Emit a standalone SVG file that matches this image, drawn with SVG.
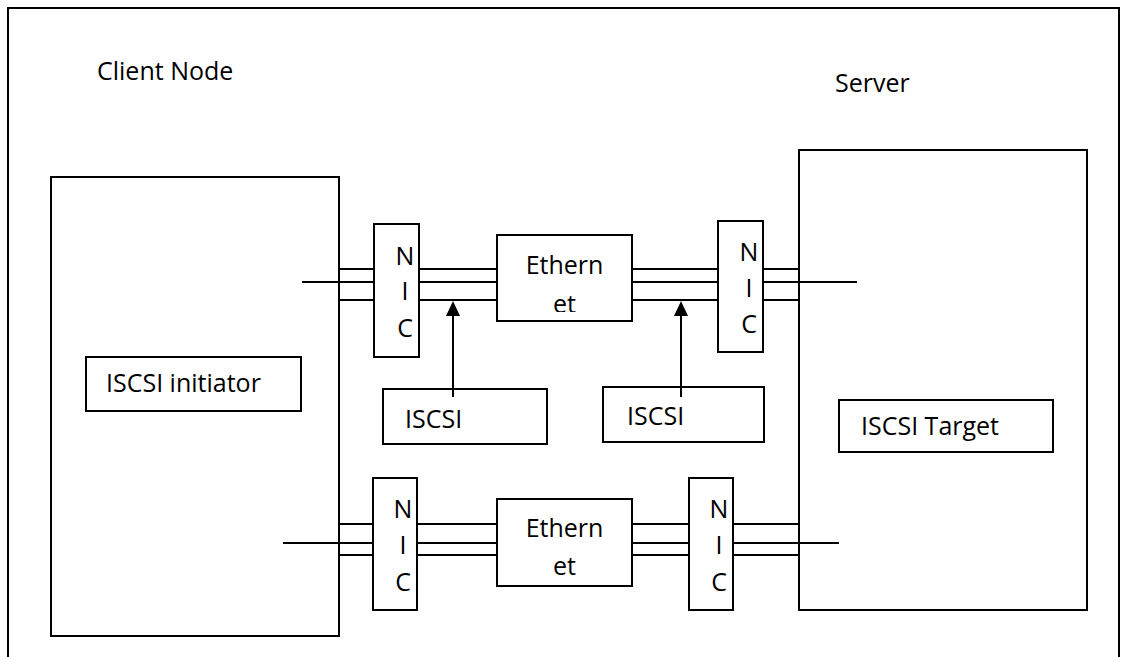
<svg xmlns="http://www.w3.org/2000/svg" width="1121" height="657" viewBox="0 0 1121 657">
  <style>
    .box { fill: #fff; stroke: #000; stroke-width: 2; }
    .ln { stroke: #000; stroke-width: 2; fill: none; }
    .t { font-family: "Open Sans", "Liberation Sans", sans-serif; font-size: 25px; fill: #000; }
    .c { text-anchor: middle; }
  </style>
  <defs>
    <clipPath id="clipEth1"><rect x="497" y="235" width="135" height="77"/></clipPath>
  </defs>

  <rect x="0" y="0" width="1121" height="657" fill="#fff"/>
  <!-- outer frame -->
  <rect id="frame" x="8" y="8" width="1111" height="700" class="box"/>

  <!-- links -->
  <g id="connectors">
    <!-- top link -->
    <path class="ln" d="M339,269 H374 M302,282 H374 M339,300 H374"/>
    <path class="ln" d="M419,269 H497 M419,282 H497 M419,300 H497"/>
    <path class="ln" d="M632,269 H718 M632,282 H718 M632,300 H718"/>
    <path class="ln" d="M763,269 H799 M763,282 H857 M763,300 H799"/>
    <!-- bottom link -->
    <path class="ln" d="M339,524 H373 M283,543 H373 M339,555 H373"/>
    <path class="ln" d="M417,524 H497 M417,543 H497 M417,555 H497"/>
    <path class="ln" d="M632,524 H689 M632,543 H689 M632,555 H689"/>
    <path class="ln" d="M733,524 H799 M733,543 H839 M733,555 H799"/>
    <!-- iSCSI pointers -->
    <line class="ln" x1="453" y1="397" x2="453" y2="316"/>
    <line class="ln" x1="681" y1="397" x2="681" y2="316"/>
    <path d="M446,316 L453,301 L460,316 Z" fill="#000"/>
    <path d="M674,316 L681,301 L688,316 Z" fill="#000"/>
  </g>

  <text class="t" x="97" y="80">Client Node</text>
  <text class="t" x="835" y="92">Server</text>

  <g id="client">
    <rect x="51" y="177" width="288" height="459" class="box" style="fill:none"/>
  </g>
  <g id="initiator">
    <rect x="86" y="357" width="215" height="54" class="box"/>
    <text class="t" x="106" y="392">ISCSI initiator</text>
  </g>

  <g id="server">
    <rect x="799" y="150" width="288" height="460" class="box" style="fill:none"/>
  </g>
  <g id="target">
    <rect x="839" y="400" width="214" height="52" class="box"/>
    <text class="t" x="861" y="435">ISCSI Target</text>
  </g>

  <g id="nic-1">
    <rect x="374" y="224" width="45" height="133" class="box"/>
    <text class="t c" x="405" y="265">N</text>
    <text class="t c" x="405" y="300">I</text>
    <text class="t c" x="405" y="337">C</text>
  </g>
  <g id="ethernet-1">
    <rect x="497" y="235" width="135" height="86" class="box"/>
    <g clip-path="url(#clipEth1)">
      <text class="t c" x="564.5" y="274">Ethern</text>
      <text class="t c" x="564.5" y="313">et</text>
    </g>
  </g>
  <g id="nic-2">
    <rect x="718" y="221" width="45" height="131" class="box"/>
    <text class="t c" x="749" y="261">N</text>
    <text class="t c" x="749" y="297">I</text>
    <text class="t c" x="749" y="333">C</text>
  </g>

  <g id="iscsi-1">
    <rect x="383" y="389" width="164" height="55" class="box"/>
    <text class="t" x="405" y="428">ISCSI</text>
  </g>
  <g id="iscsi-2">
    <rect x="603" y="387" width="161" height="55" class="box"/>
    <text class="t" x="627" y="425">ISCSI</text>
  </g>
  <!-- pointer lines overlap the box tops slightly -->
  <line class="ln" x1="453" y1="386" x2="453" y2="397"/>
  <line class="ln" x1="681" y1="384" x2="681" y2="397"/>

  <g id="nic-3">
    <rect x="373" y="478" width="44" height="132" class="box"/>
    <text class="t c" x="403" y="518">N</text>
    <text class="t c" x="403" y="554">I</text>
    <text class="t c" x="403" y="591">C</text>
  </g>
  <g id="ethernet-2">
    <rect x="497" y="499" width="135" height="87" class="box"/>
    <text class="t c" x="564.5" y="537">Ethern</text>
    <text class="t c" x="564.5" y="575">et</text>
  </g>
  <g id="nic-4">
    <rect x="689" y="478" width="44" height="132" class="box"/>
    <text class="t c" x="719" y="518">N</text>
    <text class="t c" x="719" y="554">I</text>
    <text class="t c" x="719" y="591">C</text>
  </g>
</svg>
